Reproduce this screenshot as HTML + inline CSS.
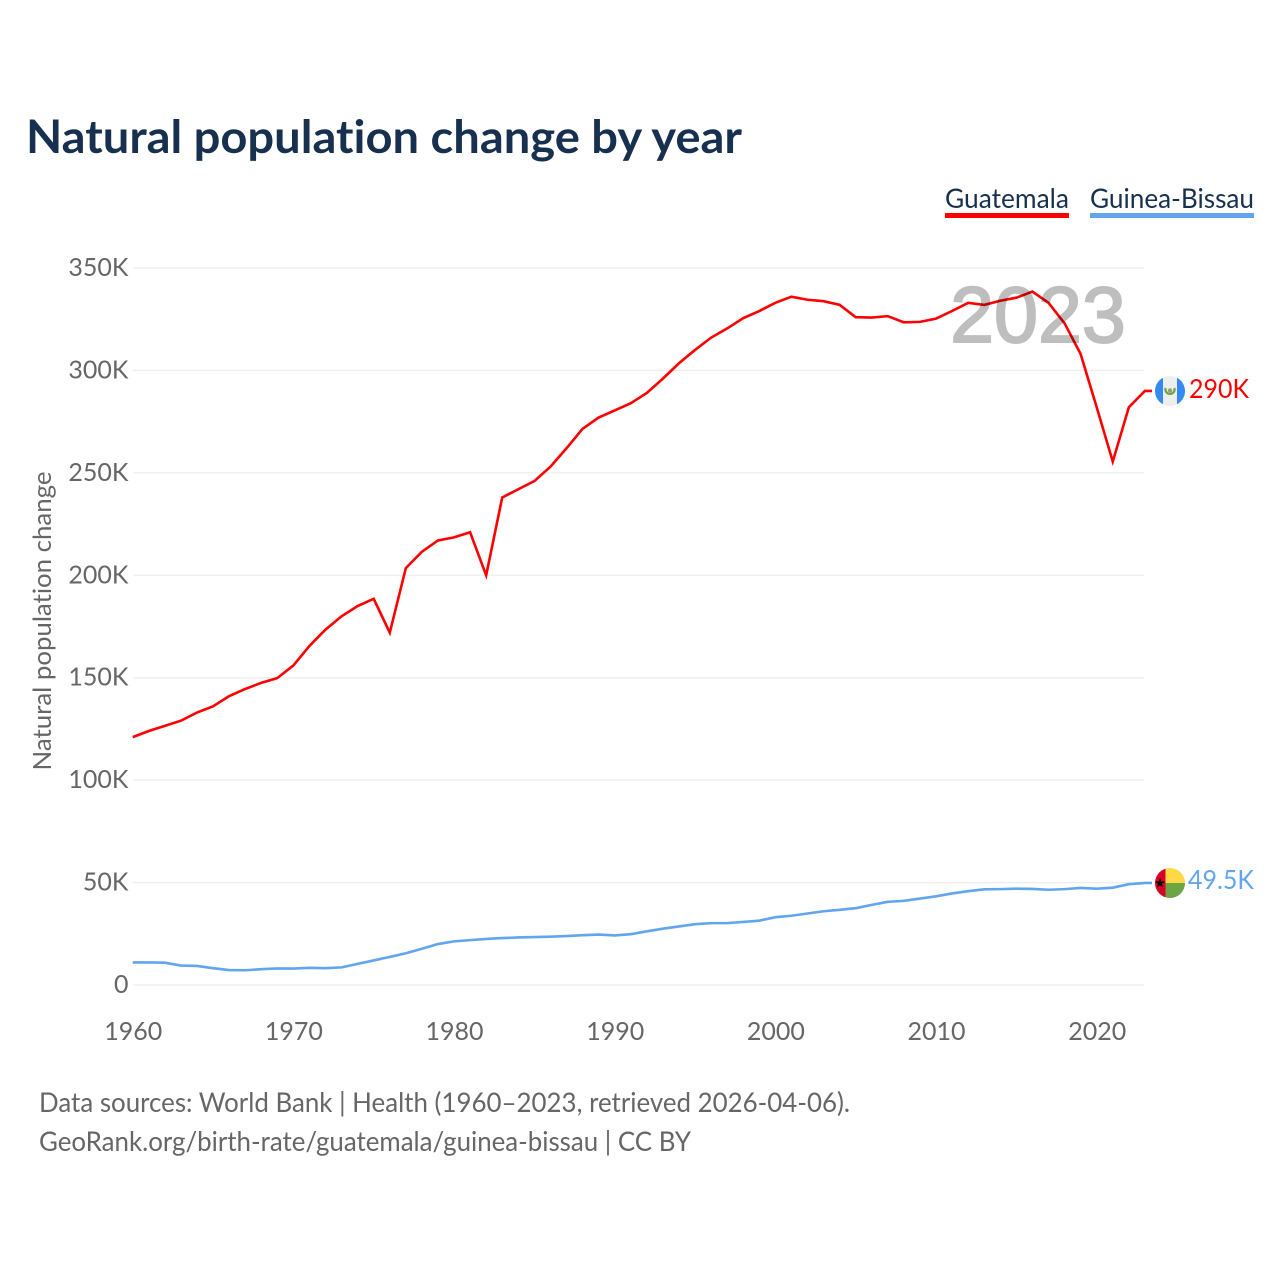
<!DOCTYPE html>
<html lang="en">
<head>
<meta charset="utf-8">
<title>Natural population change by year</title>
<style>
html,body{margin:0;padding:0;background:#fff;}
svg{display:block;}
text{font-family:"Lato","Carlito","Liberation Sans",sans-serif;font-variant-ligatures:none;}
</style>
</head>
<body>
<svg id="chart" xmlns="http://www.w3.org/2000/svg" width="1280" height="1280" viewBox="0 0 1280 1280">
  <rect width="1280" height="1280" fill="#fff"/>
  <text x="26" y="153" font-size="46" font-weight="700" fill="#18304f" textLength="716" lengthAdjust="spacingAndGlyphs">Natural population change by year</text>

  <g id="legend">
    <g>
      <text x="945" y="208" font-size="27" fill="#18304f" textLength="124" lengthAdjust="spacingAndGlyphs">Guatemala</text>
      <rect x="945" y="213" width="124" height="5" fill="#ff0000"/>
    </g>
    <g>
      <text x="1090" y="208" font-size="27" fill="#18304f" textLength="164" lengthAdjust="spacingAndGlyphs">Guinea-Bissau</text>
      <rect x="1090" y="213" width="164" height="5" fill="#61a5ee"/>
    </g>
  </g>

  <g id="grid"></g>
  <g id="yticks"></g>
  <g id="xticks"></g>

  <text transform="translate(51,621) rotate(-90)" text-anchor="middle" font-size="25" fill="#666" textLength="299" lengthAdjust="spacingAndGlyphs">Natural population change</text>

  <g id="series"></g>

  <text x="1038" y="342" text-anchor="middle" font-size="79" font-weight="400" fill="#000" stroke="#000" stroke-width="2" opacity="0.25" style="font-family:'Liberation Sans',sans-serif">2023</text>

  <defs>
    <clipPath id="gt-clip"><circle cx="1170" cy="391" r="15"/></clipPath>
    <clipPath id="gw-clip"><circle cx="1170" cy="883" r="15"/></clipPath>
  </defs>

  <g clip-path="url(#gt-clip)">
    <rect x="1155" y="376" width="30" height="30" fill="#eeeeee"/>
    <rect x="1155" y="376" width="8" height="30" fill="#338af3"/>
    <rect x="1177" y="376" width="8" height="30" fill="#338af3"/>
    <path d="M1165.6 388 A4.6 4.6 0 1 0 1174.4 388" fill="none" stroke="#6da544" stroke-width="2.2"/>
    <circle cx="1170" cy="390.5" r="2.2" fill="#a09a80"/>
  </g>
  <g clip-path="url(#gw-clip)">
    <rect x="1155" y="868" width="10.5" height="30" fill="#d80027"/>
    <rect x="1165.5" y="868" width="19.5" height="15" fill="#ffda44"/>
    <rect x="1165.5" y="883" width="19.5" height="15" fill="#6da544"/>
    <polygon points="1160,878 1161.3,881.5 1165,881.5 1162,883.8 1163.1,887.5 1160,885.3 1156.9,887.5 1158,883.8 1155,881.5 1158.7,881.5" fill="#000"/>
  </g>

  <text x="1189" y="398" font-size="26" fill="#ff0000" textLength="60" lengthAdjust="spacingAndGlyphs">290K</text>
  <text x="1188" y="889" font-size="26" fill="#61a5ee" textLength="66" lengthAdjust="spacingAndGlyphs">49.5K</text>

  <text x="39" y="1112" font-size="27" fill="#666" textLength="811" lengthAdjust="spacingAndGlyphs">Data sources: World Bank | Health (1960–2023, retrieved 2026-04-06).</text>
  <text x="39" y="1151" font-size="27" fill="#666" textLength="652" lengthAdjust="spacingAndGlyphs">GeoRank.org/birth-rate/guatemala/guinea-bissau | CC BY</text>
</svg>

<script>
const startYear = 1960;
const yTickValues = [0, 50, 100, 150, 200, 250, 300, 350];
const yTickLabels = ["0", "50K", "100K", "150K", "200K", "250K", "300K", "350K"];
const xTickYears = [1960, 1970, 1980, 1990, 2000, 2010, 2020];
const guatemala = [121, 124, 126.5, 129, 133, 136, 141, 144.5, 147.5, 149.8,
  156, 165.5, 173.5, 180, 185, 188.5, 172, 203.5, 211.5, 217,
  218.5, 221, 200, 238, 242, 246, 253, 262, 271.5, 277,
  280.5, 284, 289, 296, 303.5, 310, 316, 320.5, 325.5, 329,
  333, 336, 334.5, 333.8, 332, 326, 325.8, 326.5, 323.5, 323.7,
  325.3, 329, 333, 332, 334, 335.5, 338.5, 333, 323, 308,
  282, 255.5, 282, 290];
const guineaBissau = [11, 11, 10.9, 9.5, 9.3, 8.2, 7.3, 7.2, 7.7, 8.1,
  8, 8.4, 8.2, 8.6, 10.3, 12, 13.7, 15.5, 17.7, 20,
  21.3, 21.9, 22.5, 22.9, 23.2, 23.4, 23.6, 23.9, 24.3, 24.6,
  24.2, 24.8, 26.2, 27.5, 28.6, 29.7, 30.2, 30.2, 30.8, 31.4,
  33.1, 33.8, 34.9, 36, 36.7, 37.5, 39.1, 40.6, 41.1, 42.2,
  43.3, 44.7, 45.8, 46.7, 46.8, 47, 46.9, 46.5, 46.8, 47.4,
  47, 47.5, 49.2, 49.8];

const NS = 'http://www.w3.org/2000/svg';
function xScale(year) { return 132.7 + (year - 1960) * (964 / 60); }
function yScale(v) { return 985 - v * (717 / 350); }
function mk(tag, attrs, parent) {
  const el = document.createElementNS(NS, tag);
  for (const k in attrs) el.setAttribute(k, attrs[k]);
  parent.appendChild(el);
  return el;
}

const grid = document.getElementById('grid');
const yticks = document.getElementById('yticks');
const xticks = document.getElementById('xticks');
const series = document.getElementById('series');

yTickValues.forEach(function (v, i) {
  const line = mk('line', { x1: 133, x2: 1144, y1: yScale(v), y2: yScale(v), stroke: '#eeeeee', 'stroke-width': 1.3 }, grid);
  
  
  const t = mk('text', { x: 128.5, y: yScale(v) + 8, 'text-anchor': 'end', 'font-size': 25, fill: '#666' }, yticks);
  
  
  t.textContent = yTickLabels[i];
});

xTickYears.forEach(function (yr) {
  const t = mk('text', { x: xScale(yr) + 0.5, y: 1040, 'text-anchor': 'middle', 'font-size': 25, fill: '#666' }, xticks);
  
  
  t.textContent = yr;
});

function drawSeries(values, color, name) {
  const pts = values.map(function (v, i) { return xScale(startYear + i).toFixed(2) + ',' + yScale(v).toFixed(2); });
  const last = yScale(values[values.length - 1]).toFixed(2);
  pts.push('1152,' + last);
  const line = mk('polyline', { points: pts.join(' '), fill: 'none', stroke: color, 'stroke-width': 2.6, 'stroke-linejoin': 'miter' }, series);
  
  
}
drawSeries(guatemala, '#ff0000', 'line-guatemala');
drawSeries(guineaBissau, '#61a5ee', 'line-guinea-bissau');
</script>
</body>
</html>
